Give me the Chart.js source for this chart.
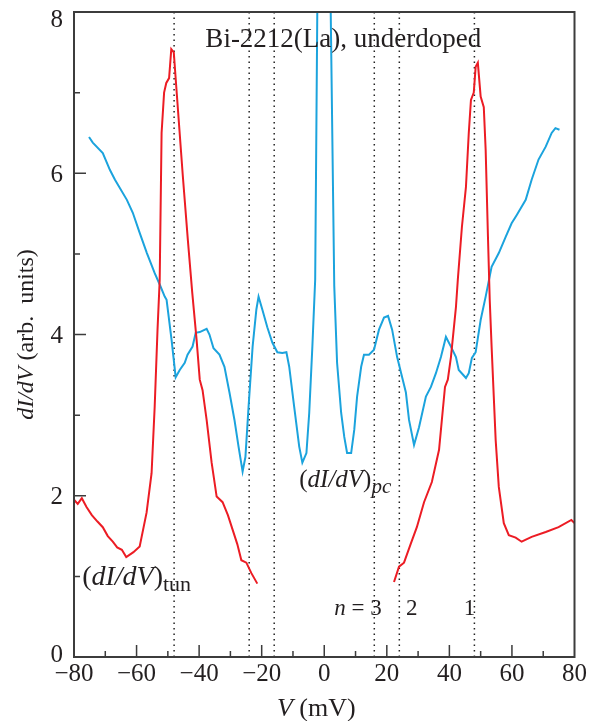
<!DOCTYPE html>
<html>
<head>
<meta charset="utf-8">
<script src="https://cdn.jsdelivr.net/npm/chart.js@4"></script>
<style>
  body { margin: 0; background: #fff; }
  #wrap { width: 592px; height: 721px; }
</style>
</head>
<body>
<div id="wrap"><canvas id="spectra" width="592" height="721"></canvas></div>
<script>
// tunnelling conductance, negative bias branch
const tunLeftV = [-80, -78.8, -77.5, -76, -74.3, -72.5, -70.8, -69.2, -67.6, -66.2, -64.7, -63.3, -61, -59, -56.8, -55.2, -54.2, -53.3, -52.6, -52.0, -51.2, -50.5, -49.6, -48.9, -48.1, -47.3, -45.2, -43.6, -42.2, -40.8, -39.8, -38.9, -37.6, -36.0, -34.4, -32.5, -30.8, -29.3, -27.8, -26.5, -24.9, -23.3, -21.4];
const tunLeftG = [1.95, 1.90, 1.97, 1.86, 1.76, 1.68, 1.61, 1.50, 1.43, 1.36, 1.33, 1.24, 1.30, 1.37, 1.79, 2.28, 3.11, 4.06, 4.68, 6.5, 7.0, 7.12, 7.18, 7.54, 7.5, 7.07, 5.96, 5.17, 4.52, 3.93, 3.44, 3.31, 2.94, 2.41, 1.99, 1.92, 1.76, 1.58, 1.40, 1.20, 1.17, 1.04, 0.91];

// tunnelling conductance, positive bias branch
const tunRightV = [22.3, 23.9, 25.5, 27.7, 29.6, 31.9, 34.4, 36.7, 37.6, 38.6, 39.5, 40.5, 42.1, 42.7, 44.0, 45.3, 46.2, 46.9, 47.8, 48.4, 49.1, 50.0, 51.0, 51.6, 52.3, 52.9, 53.5, 54.8, 55.8, 57.4, 59.0, 61.2, 63.1, 66.3, 70.8, 74.9, 79.0, 80];
const tunRightG = [0.93, 1.12, 1.17, 1.41, 1.61, 1.92, 2.17, 2.57, 2.94, 3.35, 3.44, 3.72, 4.34, 4.68, 5.33, 5.83, 6.50, 6.91, 7.00, 7.32, 7.37, 6.95, 6.82, 6.29, 5.26, 4.43, 3.85, 2.69, 2.11, 1.66, 1.51, 1.48, 1.43, 1.49, 1.55, 1.61, 1.70, 1.66];

// point-contact conductance (zero-bias peak runs off the top)
const pcV = [-75.2, -74, -70.8, -68.5, -66.9, -63.1, -61.2, -59, -56.7, -54.2,
  -52.6, -51, -50.4, -48.8, -47.5, -46.2, -44.6, -43.7, -42.1, -41.1,
  -39.8, -37.6, -36.7, -35.4, -33.5, -31.9, -30.3, -28.7, -27.4, -26.1,
  -25.2, -24.2, -22.9, -21.7, -21.0, -19.8, -18.2, -16.6, -15.0, -13.4,
  -12.1, -11.2, -9.6, -8.0, -7.0, -5.7, -4.8, -3.8, -2.9, -0.6,
  3.2, 4.1, 5.4, 6.4, 7.3, 8.6, 9.6, 10.5, 11.8, 12.7,
  14.3, 15.9, 17.5, 19.1, 20.4, 21.7, 23.3, 24.9, 26.1, 27.1,
  28.7, 30.3, 32.5, 34.1, 35.7, 37.3, 38.9, 40.5, 42.1, 43.0,
  45.3, 46.2, 47.2, 48.4, 50.0, 51.6, 53.5, 55.8, 58.0, 59.9,
  61.5, 64.4, 66.3, 68.5, 70.8, 72.7, 73.9, 75.2];
const pcG = [6.45, 6.38, 6.25, 6.04, 5.92, 5.67, 5.51, 5.26, 5.01, 4.76,
  4.62, 4.47, 4.43, 3.93, 3.47, 3.56, 3.65, 3.75, 3.85, 4.02,
  4.03, 4.07, 4.0, 3.83, 3.75, 3.60, 3.28, 2.94, 2.61, 2.30,
  2.48, 3.10, 3.85, 4.31, 4.47, 4.31, 4.09, 3.90, 3.78, 3.77,
  3.78, 3.60, 3.10, 2.61, 2.41, 2.53, 3.03, 3.85, 4.68, 16,
  4.6, 3.65, 3.03, 2.73, 2.53, 2.53, 2.82, 3.23, 3.60, 3.75,
  3.75, 3.81, 4.06, 4.21, 4.23, 4.06, 3.72, 3.47, 3.28, 2.94,
  2.63, 2.85, 3.23, 3.35, 3.52, 3.72, 3.97, 3.85, 3.72, 3.56,
  3.46, 3.52, 3.71, 3.78, 4.18, 4.47, 4.84, 5.01, 5.21, 5.38,
  5.48, 5.67, 5.92, 6.17, 6.33, 6.50, 6.56, 6.54];

// voltages of the dotted guide lines (n = 1, 2, 3 on both sides)
const markerV = [-48, -24, -16, 16, 24, 48];

const xTicks = [-80, -60, -40, -20, 0, 20, 40, 60, 80];
const yTicks = [0, 2, 4, 6, 8];

const SERIF = '"Liberation Serif", "Times New Roman", serif';
const INK = '#231f20';
const RED = '#ec1c24';
const BLUE = '#1ba3dd';

const pts = (xs, ys) => xs.map((x, i) => ({ x: x, y: ys[i] }));

const datasets = [
    { data: pts(tunLeftV, tunLeftG), borderColor: RED, borderWidth: 2 },
    { data: pts(tunRightV, tunRightG), borderColor: RED, borderWidth: 2 },
    { data: pts(pcV, pcG), borderColor: BLUE, borderWidth: 2 }
];
markerV.forEach(v => {
    datasets.push({
        data: [{ x: v, y: 0 }, { x: v, y: 8 }],
        borderColor: '#222',
        borderWidth: 1.5,
        borderDash: [1.5, 4]
    });
});

// draw a run of differently styled text pieces in sequence
function drawRuns(ctx, runs, x, y, align) {
    let total = 0;
    runs.forEach(r => { ctx.font = r.font; total += ctx.measureText(r.t).width; });
    let cx = align === 'center' ? x - total / 2 : x;
    runs.forEach(r => {
        ctx.font = r.font;
        ctx.fillText(r.t, cx, y + (r.dy || 0));
        cx += ctx.measureText(r.t).width;
    });
}

const frame = {
    id: 'frame',
    afterDraw(chart) {
        const { ctx, chartArea: a, scales: { x, y } } = chart;
        ctx.save();
        ctx.strokeStyle = '#3c3c3c';
        ctx.lineWidth = 2;
        ctx.strokeRect(a.left, a.top, a.right - a.left, a.bottom - a.top);

        // inward ticks: long on labelled values, short in between
        ctx.lineWidth = 1.5;
        ctx.beginPath();
        for (let v = -70; v < 80; v += 10) {
            const px = x.getPixelForValue(v);
            const len = v % 20 === 0 ? 12 : 6;
            ctx.moveTo(px, a.bottom);
            ctx.lineTo(px, a.bottom - len);
        }
        for (let v = 1; v < 8; v++) {
            const py = y.getPixelForValue(v);
            const len = v % 2 === 0 ? 12 : 6;
            ctx.moveTo(a.left, py);
            ctx.lineTo(a.left + len, py);
        }
        ctx.stroke();

        // y tick labels, kept inside the frame height
        ctx.fillStyle = INK;
        ctx.font = '25px ' + SERIF;
        ctx.textAlign = 'right';
        ctx.textBaseline = 'middle';
        yTicks.forEach(v => {
            const py = Math.min(Math.max(y.getPixelForValue(v) + 2, a.top + 8), a.bottom - 2);
            ctx.fillText(String(v), a.left - 11, py);
        });

        ctx.textBaseline = 'alphabetic';
        ctx.textAlign = 'left';
        const P = (vx, vy) => [x.getPixelForValue(vx), y.getPixelForValue(vy)];

        let [tx, ty] = P(6.1, 7.57);
        drawRuns(ctx, [{ t: 'Bi-2212(La), underdoped', font: '27px ' + SERIF }], tx, ty, 'center');

        [tx, ty] = P(-77.4, 0.89);
        drawRuns(ctx, [
            { t: '(', font: '28px ' + SERIF },
            { t: 'dI/dV', font: 'italic 28px ' + SERIF },
            { t: ')', font: '28px ' + SERIF },
            { t: 'tun', font: '22px ' + SERIF, dy: 6 }
        ], tx, ty, 'left');

        [tx, ty] = P(-8.0, 2.11);
        drawRuns(ctx, [
            { t: '(', font: '25px ' + SERIF },
            { t: 'dI/dV', font: 'italic 25px ' + SERIF },
            { t: ')', font: '25px ' + SERIF },
            { t: 'pc', font: 'italic 21px ' + SERIF, dy: 6 }
        ], tx, ty, 'left');

        [tx, ty] = P(3.2, 0.52);
        drawRuns(ctx, [
            { t: 'n', font: 'italic 23px ' + SERIF },
            { t: ' = 3', font: '23px ' + SERIF }
        ], tx, ty, 'left');
        ctx.font = '23px ' + SERIF;
        ctx.fillText('2', x.getPixelForValue(26.1), ty);
        ctx.fillText('1', x.getPixelForValue(44.6), ty);

        // axis titles
        drawRuns(ctx, [
            { t: 'V', font: 'italic 26px ' + SERIF },
            { t: ' (mV)', font: '26px ' + SERIF }
        ], (a.left + a.right) / 2 - 8, 716, 'center');

        ctx.translate(33, (a.top + a.bottom) / 2);
        ctx.rotate(-Math.PI / 2);
        drawRuns(ctx, [
            { t: 'dI/dV', font: 'italic 24px ' + SERIF },
            { t: ' (arb.  units)', font: '24px ' + SERIF }
        ], 0, 0, 'center');
        ctx.restore();
    }
};

new Chart(document.getElementById('spectra').getContext('2d'), {
    type: 'line',
    data: { datasets: datasets },
    options: {
        responsive: false,
        animation: false,
        layout: { padding: { top: 12, right: 16, left: 0, bottom: 0 } },
        elements: { point: { radius: 0 }, line: { tension: 0, fill: false } },
        plugins: { legend: { display: false }, tooltip: { enabled: false } },
        scales: {
            x: {
                type: 'linear',
                min: -80, max: 80,
                afterBuildTicks: s => { s.ticks = xTicks.map(v => ({ value: v })); },
                afterFit: s => { s.height = 64; },
                grid: { display: false, drawTicks: false },
                border: { display: false },
                ticks: {
                    padding: 5,
                    maxRotation: 0,
                    autoSkip: false,
                    color: INK,
                    font: { family: SERIF, size: 25, lineHeight: 1 },
                    callback: v => v < 0 ? '\u2212' + Math.abs(v) : String(v)
                }
            },
            y: {
                min: 0, max: 8,
                afterBuildTicks: s => { s.ticks = yTicks.map(v => ({ value: v })); },
                afterFit: s => { s.width = 74; },
                grid: { display: false, drawTicks: false },
                border: { display: false },
                ticks: { display: false }
            }
        }
    },
    plugins: [frame]
});
</script>
</body>
</html>
